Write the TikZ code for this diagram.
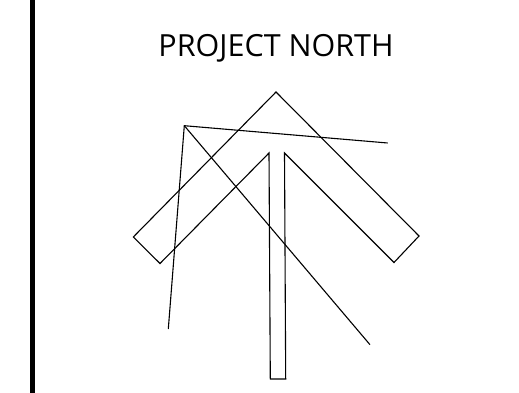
\documentclass[tikz,border=0pt]{standalone}
\usepackage{fontspec}
\setmainfont{Open Sans}
\begin{document}
\begin{tikzpicture}[x=1pt,y=-1pt,
  thin line/.style={draw=black,line width=1.1pt,line join=miter},
  bar/.style={draw=black,line width=5pt},
  titletext/.style={font=\fontsize{30.5}{36}\selectfont,inner sep=0pt,anchor=base}]
\useasboundingbox (0,0) rectangle (519,393);
\fill[white] (0,0) rectangle (519,393);
\coordinate (bt) at (32.5,0);
\coordinate (bb) at (32.5,393);
\draw[bar] (bt) -- (bb);
\node[titletext] (title) at (276,56.3) {PROJECT NORTH};
% arrow outline
\coordinate (apex) at (276,92);
\coordinate (rt) at (419,236);
\coordinate (rb) at (394,262.5);
\coordinate (ir) at (284.5,153);
\coordinate (sr) at (285.7,379);
\coordinate (sl) at (270.3,379);
\coordinate (il) at (269,153);
\coordinate (lb) at (160,263.5);
\coordinate (lt) at (133.3,237);
\draw[thin line] (apex) -- (rt) -- (rb) -- (ir) -- (sr) -- (sl) -- (il) -- (lb) -- (lt) -- cycle;
% stray lines
\coordinate (p) at (184.3,125.7);
\coordinate (e1) at (387.7,143);
\coordinate (e2) at (168.3,329);
\coordinate (e3) at (370,344.7);
\draw[thin line] (e1) -- (p) -- (e2);
\draw[thin line] (p) -- (e3);
\end{tikzpicture}
\end{document}
